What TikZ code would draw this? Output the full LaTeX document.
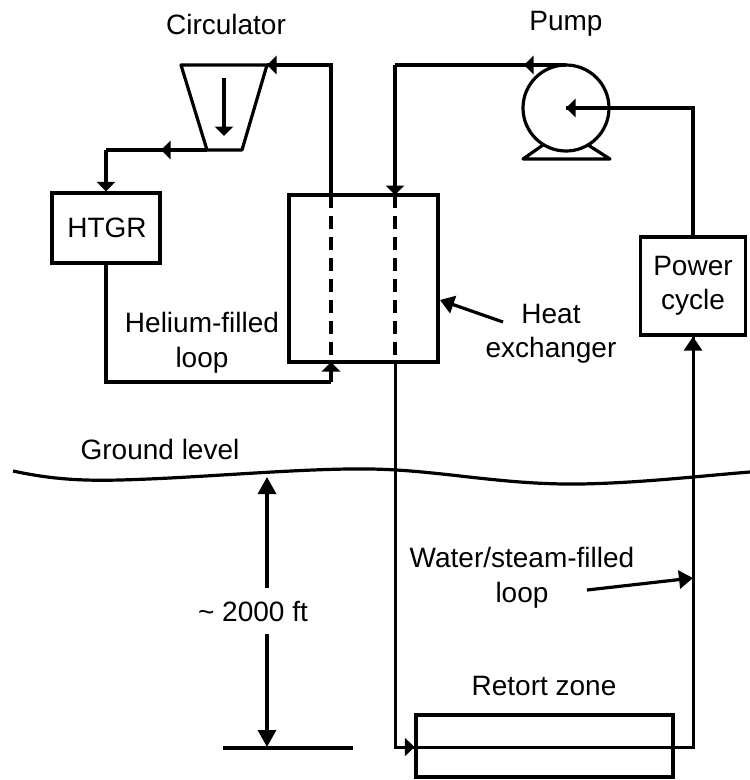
\documentclass[tikz,border=0pt]{standalone}
\usepackage{fontspec}
\setmainfont{Liberation Sans}
\usetikzlibrary{arrows.meta}
\tikzset{
  ln/.style={line width=3.2pt,line join=miter,black},
  thin ln/.style={line width=3pt,black},
  tip/.style={-{Triangle[length=9.5pt,width=18pt]}},
  tipm/.style={-{Triangle[length=14pt,width=18pt]}},
  tipl/.style={-{Triangle[length=17pt,width=18pt]}},
  txt/.style={font=\fontsize{28}{34.5}\selectfont,align=center,inner sep=0pt},
  dash ln/.style={line width=3.2pt,dash pattern=on 13pt off 8pt},
}
\begin{document}
\begin{tikzpicture}[x=1pt,y=-1pt]
\useasboundingbox (0,0) rectangle (750,780);
% boxes
\node[draw,ln,minimum width=108pt,minimum height=70pt,inner sep=0pt] (htgr) at (106,228) {};
\node[draw,ln,minimum width=149pt,minimum height=167pt,inner sep=0pt] (hx) at (363.5,278.5) {};
\node[draw,ln,minimum width=105pt,minimum height=98pt,inner sep=0pt] (pc) at (693,286) {};
\node[draw,ln,minimum width=257pt,minimum height=62pt,inner sep=0pt] (rz) at (544.5,746) {};
% pump
\node[draw,ln,circle,minimum size=86pt,inner sep=0pt] (pump) at (566,108) {};
\coordinate (pt) at (566,65);
\coordinate (footL) at (543,145);
\coordinate (footR) at (588,145);
\coordinate (baseL) at (523,159);
\coordinate (baseR) at (610,159);
\draw[ln,line join=round] (footL) -- (baseL) -- (baseR) -- (footR);
% circulator
\coordinate (tl) at (181,65);
\coordinate (tr) at (267,65);
\coordinate (br) at (242,150);
\coordinate (bl) at (207,150);
\draw[ln,line join=round] (tl) -- (tr) -- (br) -- (bl) -- cycle;
\coordinate (c1) at (224,78);
\coordinate (c2) at (224,136);
\draw[ln,tip] (c1) -- (c2);
% helium loop
\coordinate (a1) at (331,65);
\coordinate (a2) at (331,195);
\coordinate (a3) at (331,362);
\coordinate (a4) at (331,382);
\coordinate (a5) at (106,382);
\coordinate (a6) at (106,150);
\draw[ln] (a2) -- (a1) -- (tr);
\draw[ln,tip] (a1) -- (tr);
\draw[dash ln] (a2) -- (a3);
\draw[ln] (htgr.south) -- (a5) -- (a4);
\draw[ln,tip] (a4) -- (a3);
\draw[ln] (bl) -- (a6);
\draw[ln,tip] (bl) -- (161,150);
\draw[ln,tip] (a6) -- (htgr.north);
% water loop
\coordinate (b1) at (395,65);
\coordinate (b2) at (395,195);
\coordinate (b3) at (395,362);
\coordinate (b4) at (395,747);
\coordinate (b5) at (693,747);
\draw[ln] (pt) -- (b1);
\draw[ln,tip] (pt) -- (524,65);
\draw[ln,tip] (b1) -- (b2);
\draw[dash ln] (b2) -- (b3);
\draw[thin ln,line join=miter] (b3) -- (b4) -- (rz.west |- b4);
\draw[thin ln,tip] (b4) -- (rz.west |- b4);
\draw[thin ln,line join=miter] (rz.west |- b4) -- (b5) -- (pc.south);
\draw[thin ln,tipm] (b5) -- (pc.south);
% power line
\coordinate (p1) at (693,108);
\draw[ln] (pc.north) -- (p1) -- (pump.center);
\draw[ln,tip] (p1) -- (pump.center);
% ground
\draw[ln] (13,471) .. controls (50,479) and (80,481) .. (120,480)
  .. controls (200,478) and (300,468) .. (370,469)
  .. controls (440,470) and (500,485) .. (580,484)
  .. controls (640,483) and (700,476) .. (750,472);
% dimension
\coordinate (gd) at (267,477);
\coordinate (d1) at (267,588);
\coordinate (d2) at (267,634);
\coordinate (d3) at (267,747);
\coordinate (h1) at (223,748);
\coordinate (h2) at (353,748);
\draw[ln,tipl] (d1) -- (gd);
\draw[ln,tipl] (d2) -- (d3);
\draw[ln] (h1) -- (h2);
% pointers
\coordinate (e1) at (503,322);
\coordinate (e2) at (440,300);
\draw[ln,tipm] (e1) -- (e2);
\coordinate (w1) at (587,590);
\coordinate (w2) at (693,578);
\draw[ln,tipm] (w1) -- (w2);
% labels
\node[txt] (l0) at (107,228) {HTGR};
\node[txt] (l9) at (693,286) {Power\\cycle};
\node[txt] (l1) at (226,24) {Circulator};
\node[txt] (l2) at (566,24) {Pump};
\node[txt] (l3) at (202,343) {Helium-filled\\loop};
\node[txt] (l4) at (551,334) {Heat\\exchanger};
\node[txt] (l5) at (160,449) {Ground level};
\node[txt] (l6) at (253,611) {\char`\~{} 2000 ft};
\node[txt] (l7) at (522,578) {Water/steam-filled\\loop};
\node[txt] (l8) at (544,686) {Retort zone};
\end{tikzpicture}
\end{document}
